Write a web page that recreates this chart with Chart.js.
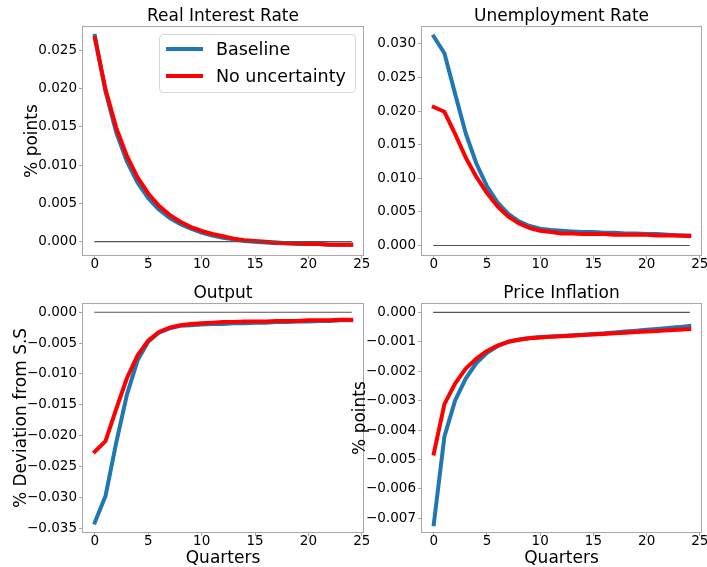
<!DOCTYPE html>
<html>
<head>
<meta charset="utf-8">
<script src="https://cdn.jsdelivr.net/npm/chart.js@4"></script>
<style>
  body { margin: 0; background: #fff; }
  #wrap { position: relative; width: 707px; height: 567px; overflow: hidden; }
  canvas { position: absolute; }
</style>
</head>
<body>
<div id="wrap">
  <canvas id="c-rir" style="left:0px;top:0px" width="372" height="283"></canvas>
  <canvas id="c-ur" style="left:372px;top:0px" width="335" height="283"></canvas>
  <canvas id="c-out" style="left:0px;top:283px" width="372" height="284"></canvas>
  <canvas id="c-inf" style="left:345px;top:283px" width="362" height="284"></canvas>
</div>
<script>
// data
const quarters = [0, 1, 2, 3, 4, 5, 6, 7, 8, 9, 10, 11, 12, 13, 14, 15, 16, 17, 18, 19, 20, 21, 22, 23, 24];
const seriesNames = ["Baseline", "No uncertainty"];
const xTicks = [0, 5, 10, 15, 20, 25];

const rirBase = [0.0269, 0.0196, 0.0143, 0.0105, 0.0077, 0.0057, 0.0042, 0.0031, 0.0023, 0.0017, 0.0012, 0.0008, 0.0005, 0.0003, 0.0001, 0.0000, -0.0001, -0.0002, -0.0002, -0.0003, -0.0003, -0.0003, -0.0004, -0.0004, -0.0004];
const rirNoUnc = [0.0266, 0.0199, 0.0149, 0.0112, 0.0084, 0.0063, 0.0047, 0.0035, 0.0026, 0.0019, 0.0014, 0.0010, 0.0007, 0.0004, 0.0002, 0.0001, 0.0000, -0.0001, -0.0002, -0.0002, -0.0003, -0.0003, -0.0004, -0.0004, -0.0004];
const rirTicks = [0, 0.005, 0.01, 0.015, 0.02, 0.025];

const urBase = [0.0311, 0.0286, 0.0226, 0.0167, 0.0122, 0.0088, 0.0064, 0.0047, 0.0036, 0.0029, 0.0025, 0.0023, 0.0022, 0.0021, 0.0020, 0.0020, 0.0019, 0.0019, 0.0018, 0.0018, 0.0017, 0.0017, 0.0016, 0.0015, 0.0015];
const urNoUnc = [0.0206, 0.0199, 0.0166, 0.0131, 0.0102, 0.0078, 0.0058, 0.0043, 0.0033, 0.0026, 0.0022, 0.0020, 0.0018, 0.0018, 0.0017, 0.0017, 0.0017, 0.0016, 0.0016, 0.0016, 0.0016, 0.0015, 0.0015, 0.0015, 0.0014];
const urTicks = [0, 0.005, 0.01, 0.015, 0.02, 0.025, 0.03];

const outBase = [-0.0341, -0.0298, -0.0212, -0.0134, -0.0078, -0.0048, -0.0033, -0.0026, -0.0022, -0.0021, -0.0020, -0.0019, -0.0019, -0.0018, -0.0018, -0.0017, -0.0017, -0.0016, -0.0016, -0.0015, -0.0015, -0.0014, -0.0014, -0.0013, -0.0013];
const outNoUnc = [-0.0226, -0.0209, -0.0157, -0.0107, -0.0070, -0.0046, -0.0032, -0.0025, -0.0021, -0.0019, -0.0018, -0.0017, -0.0016, -0.0016, -0.0015, -0.0015, -0.0015, -0.0014, -0.0014, -0.0014, -0.0013, -0.0013, -0.0013, -0.0012, -0.0012];
const outTicks = [0, -0.005, -0.01, -0.015, -0.02, -0.025, -0.03, -0.035];

const infBase = [-0.00720, -0.00422, -0.00300, -0.00225, -0.00172, -0.00137, -0.00114, -0.00100, -0.00092, -0.00087, -0.00084, -0.00082, -0.00080, -0.00078, -0.00076, -0.00073, -0.00071, -0.00068, -0.00065, -0.00062, -0.00059, -0.00056, -0.00053, -0.00050, -0.00046];
const infNoUnc = [-0.00480, -0.00312, -0.00242, -0.00191, -0.00157, -0.00131, -0.00113, -0.00100, -0.00093, -0.00088, -0.00085, -0.00083, -0.00081, -0.00079, -0.00077, -0.00075, -0.00073, -0.00071, -0.00069, -0.00067, -0.00065, -0.00063, -0.00061, -0.00059, -0.00057];
const infTicks = [0, -0.001, -0.002, -0.003, -0.004, -0.005, -0.006, -0.007];

const zeroLine = quarters.map(() => 0);

const FONT = "'DejaVu Sans', sans-serif";
const BLUE = "#1f77b4";
const RED = "#ff0000";
const SPINE = "#a8a8a8";

// turn two lists into {x, y} points
function toPoints(xs, ys) {
  return xs.map((x, i) => ({ x: x, y: ys[i] }));
}

// matplotlib style labels: 3 decimals and a real minus sign
function fmtTick(v) {
  if (Math.abs(v) < 1e-12) v = 0;
  return v.toFixed(3).replace("-", "\u2212");
}

// box round the plot area (all four spines)
const framePlugin = {
  id: "frame",
  afterDatasetsDraw(chart) {
    const a = chart.chartArea;
    const ctx = chart.ctx;
    ctx.save();
    ctx.strokeStyle = SPINE;
    ctx.lineWidth = 1;
    ctx.strokeRect(Math.round(a.left) + 0.5, Math.round(a.top) + 0.5, Math.round(a.right - a.left) - 1, Math.round(a.bottom - a.top) - 1);
    ctx.restore();
  },
};

// legend inside the upper right corner of the plot area
const innerLegend = {
  id: "innerLegend",
  afterDraw(chart) {
    const a = chart.chartArea;
    const ctx = chart.ctx;
    const items = chart.data.datasets.filter((d) => d.legendName);
    const w = 196, h = 58;
    const left = a.right - 9 - w;
    const top = a.top + 8;
    ctx.save();
    ctx.beginPath();
    ctx.roundRect(left + 0.5, top + 0.5, w, h, 4);
    ctx.fillStyle = "rgba(255,255,255,0.8)";
    ctx.fill();
    ctx.strokeStyle = "#d6d6d6";
    ctx.lineWidth = 1;
    ctx.stroke();
    ctx.font = "17.5px " + FONT;
    ctx.textBaseline = "middle";
    ctx.fillStyle = "#000";
    items.forEach((d, i) => {
      const y = top + 15 + i * 27;
      ctx.beginPath();
      ctx.moveTo(left + 7, y);
      ctx.lineTo(left + 44, y);
      ctx.strokeStyle = d.borderColor;
      ctx.lineWidth = 4;
      ctx.stroke();
      ctx.fillText(d.legendName, left + 57, y + 1);
    });
    ctx.restore();
  },
};

function makePanel(id, cfg) {
  const datasets = [
    { legendName: seriesNames[0], data: toPoints(quarters, cfg.base), borderColor: BLUE, borderWidth: 4, order: 2 },
    { legendName: seriesNames[1], data: toPoints(quarters, cfg.noUnc), borderColor: RED, borderWidth: 4, order: 1 },
    { data: toPoints(quarters, zeroLine), borderColor: "#555555", borderWidth: 1.2, order: 0 },
  ];

  const plugins = [framePlugin];
  if (cfg.legend) plugins.push(innerLegend);

  new Chart(document.getElementById(id), {
    type: "line",
    data: { datasets: datasets },
    options: {
      responsive: false,
      animation: false,
      devicePixelRatio: 1,
      layout: { padding: { left: 0, right: cfg.padRight, top: 0, bottom: 0 } },
      elements: {
        point: { radius: 0 },
        line: { tension: 0, borderCapStyle: "square", borderJoinStyle: "round", fill: false },
      },
      plugins: {
        legend: { display: false },
        tooltip: { enabled: false },
        title: {
          display: true,
          fullSize: false,
          text: cfg.title,
          color: "#000",
          font: { family: FONT, size: 17, weight: "normal", lineHeight: 1 },
          padding: { top: cfg.titleTop, bottom: cfg.titleBottom },
        },
      },
      scales: {
        x: {
          type: "linear",
          min: -1.2,
          max: 25.2,
          afterBuildTicks: (s) => { s.ticks = xTicks.map((v) => ({ value: v })); },
          afterFit: (s) => { s.height = cfg.xHeight; },
          grid: { drawOnChartArea: false, drawTicks: true, tickLength: 3, tickColor: SPINE },
          border: { display: false },
          ticks: {
            color: "#000",
            font: { family: FONT, size: 13.5 },
            padding: -3,
            maxRotation: 0,
            autoSkip: false,
            callback: (v) => String(v),
          },
          title: {
            display: !!cfg.xTitle,
            text: cfg.xTitle || "",
            color: "#000",
            font: { family: FONT, size: 17, lineHeight: 1 },
            padding: { top: 0, bottom: 0 },
          },
        },
        y: {
          type: "linear",
          min: cfg.yMin,
          max: cfg.yMax,
          afterBuildTicks: (s) => { s.ticks = cfg.yTicks.map((v) => ({ value: v })); },
          afterFit: (s) => { s.width = cfg.yWidth; },
          grid: { drawOnChartArea: false, drawTicks: true, tickLength: 3, tickColor: SPINE },
          border: { display: false },
          ticks: {
            color: "#000",
            font: { family: FONT, size: 13.5 },
            padding: 2,
            autoSkip: false,
            callback: (v) => fmtTick(v),
          },
          title: {
            display: !!cfg.yTitle,
            text: cfg.yTitle || "",
            color: "#000",
            font: { family: FONT, size: 17, lineHeight: 1 },
            padding: { top: cfg.yTitlePad || 0, bottom: 0 },
          },
        },
      },
    },
    plugins: plugins,
  });
}

makePanel("c-rir", {
  title: "Real Interest Rate", base: rirBase, noUnc: rirNoUnc, yTicks: rirTicks,
  yMin: -0.00187, yMax: 0.02817, yTitle: "% points", yTitlePad: 24.5,
  yWidth: 82, xHeight: 27, padRight: 8, titleTop: 8.5, titleBottom: 0.5, legend: true,
});

makePanel("c-ur", {
  title: "Unemployment Rate", base: urBase, noUnc: urNoUnc, yTicks: urTicks,
  yMin: -0.00156, yMax: 0.03266,
  yWidth: 49, xHeight: 27, padRight: 5, titleTop: 8.5, titleBottom: 0.5,
});

makePanel("c-out", {
  title: "Output", base: outBase, noUnc: outNoUnc, yTicks: outTicks,
  yMin: -0.0358, yMax: 0.0015, yTitle: "% Deviation from S.S", yTitlePad: 13.5, xTitle: "Quarters",
  yWidth: 82, xHeight: 34, padRight: 8, titleTop: 2, titleBottom: 1,
});

makePanel("c-inf", {
  title: "Price Inflation", base: infBase, noUnc: infNoUnc, yTicks: infTicks,
  yMin: -0.0075, yMax: 0.00032, yTitle: "% points", yTitlePad: 6.8, xTitle: "Quarters",
  yWidth: 76, xHeight: 34, padRight: 5, titleTop: 2, titleBottom: 1,
});
</script>
</body>
</html>
